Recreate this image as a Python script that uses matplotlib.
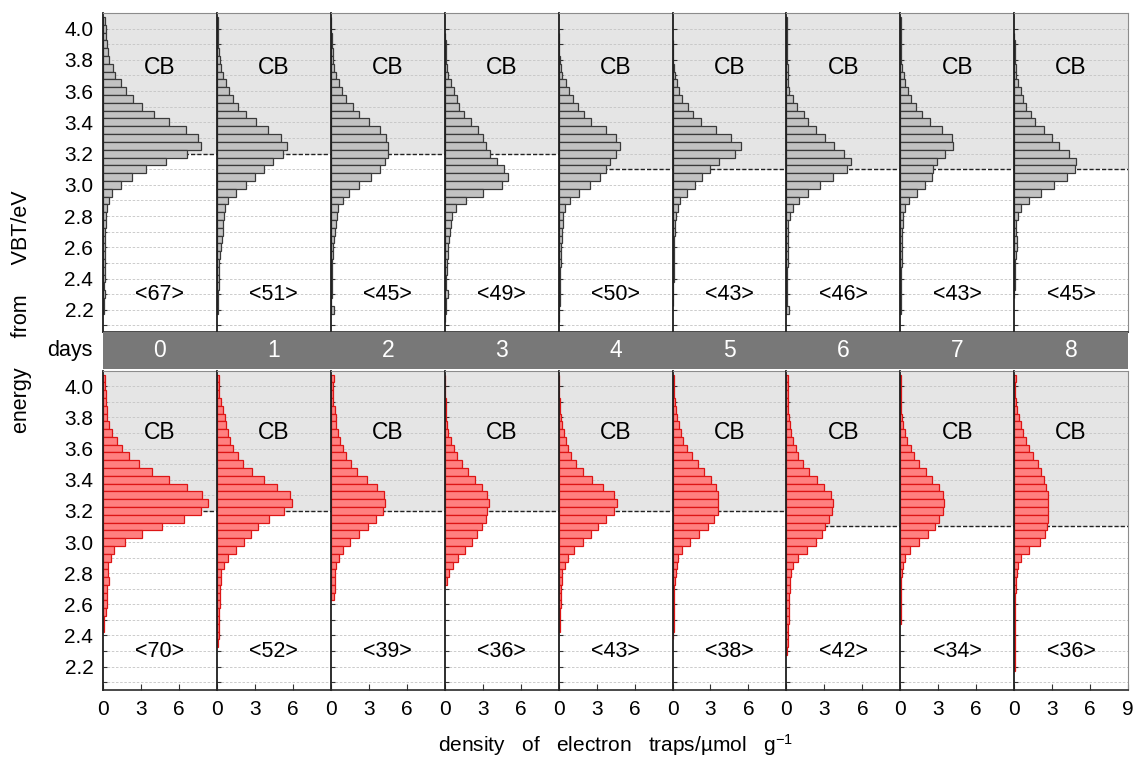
import numpy as np
import matplotlib
matplotlib.use("Agg")
import matplotlib.pyplot as plt
from matplotlib.patches import Rectangle

plt.rcParams["font.family"] = ["Liberation Sans", "DejaVu Sans"]
plt.rcParams["mathtext.fontset"] = "custom"
plt.rcParams["mathtext.rm"] = "Liberation Sans"
plt.rcParams["mathtext.it"] = "Liberation Sans:italic"

# energy bin centres (eV from VBT), 0.05 eV wide, top to bottom
energy = [4.05, 4.00, 3.95, 3.90, 3.85, 3.80, 3.75, 3.70, 3.65, 3.60,
          3.55, 3.50, 3.45, 3.40, 3.35, 3.30, 3.25, 3.20, 3.15, 3.10,
          3.05, 3.00, 2.95, 2.90, 2.85, 2.80, 2.75, 2.70, 2.65, 2.60,
          2.55, 2.50, 2.45, 2.40, 2.35, 2.30, 2.25, 2.20, 2.15, 2.10]

days = ["0", "1", "2", "3", "4", "5", "6", "7", "8"]

# conduction-band edge per day
cb_top = [3.2, 3.2, 3.2, 3.2, 3.1, 3.1, 3.1, 3.1, 3.1]
cb_bottom = [3.2, 3.2, 3.2, 3.2, 3.2, 3.2, 3.1, 3.1, 3.1]

# total electron-trap density per day
total_top = [67, 51, 45, 49, 50, 43, 46, 43, 45]
total_bottom = [70, 52, 39, 36, 43, 38, 42, 34, 36]

# energy-resolved trap density (µmol g-1), upper row
top_d0 = [0.16, 0.20, 0.24, 0.30, 0.40, 0.50, 0.76, 0.95, 1.40, 1.85,
          2.40, 3.10, 4.05, 5.20, 6.56, 7.53, 7.74, 6.66, 4.98, 3.37,
          2.29, 1.42, 0.74, 0.45, 0.30, 0.20, 0.20, 0.16, 0.18, 0.16,
          0.12, 0.18, 0.14, 0.12, 0.10, 0.12, 0.08, 0.05, 0.00, 0.00]
top_d1 = [0.05, 0.05, 0.05, 0.08, 0.13, 0.24, 0.32, 0.50, 0.68, 0.92,
          1.29, 1.66, 2.26, 3.10, 4.05, 5.10, 5.55, 5.24, 4.45, 3.70,
          3.03, 2.26, 1.50, 0.90, 0.63, 0.55, 0.50, 0.45, 0.37, 0.30,
          0.24, 0.20, 0.18, 0.16, 0.13, 0.10, 0.08, 0.06, 0.00, 0.00]
top_d2 = [0.05, 0.05, 0.08, 0.10, 0.14, 0.18, 0.26, 0.40, 0.63, 0.92,
          1.24, 1.75, 2.25, 3.00, 3.85, 4.40, 4.55, 4.55, 4.30, 3.85,
          3.15, 2.25, 1.40, 0.95, 0.60, 0.48, 0.38, 0.30, 0.24, 0.18,
          0.14, 0.10, 0.10, 0.08, 0.06, 0.06, 0.05, 0.25, 0.00, 0.00]
top_d3 = [0.00, 0.00, 0.05, 0.08, 0.10, 0.13, 0.20, 0.30, 0.50, 0.74,
          0.95, 1.13, 1.55, 2.08, 2.60, 3.05, 3.29, 3.58, 4.13, 4.71,
          5.03, 4.50, 3.05, 1.68, 0.87, 0.60, 0.50, 0.42, 0.34, 0.29,
          0.24, 0.20, 0.18, 0.14, 0.10, 0.24, 0.10, 0.08, 0.05, 0.00]
top_d4 = [0.00, 0.00, 0.02, 0.04, 0.05, 0.10, 0.16, 0.29, 0.55, 0.82,
          1.10, 1.50, 2.03, 2.55, 3.71, 4.50, 4.84, 4.50, 4.10, 3.71,
          3.29, 2.50, 1.60, 0.90, 0.50, 0.37, 0.32, 0.26, 0.24, 0.21,
          0.18, 0.16, 0.13, 0.10, 0.10, 0.12, 0.08, 0.06, 0.05, 0.00]
top_d5 = [0.00, 0.00, 0.00, 0.02, 0.03, 0.05, 0.10, 0.18, 0.34, 0.53,
          0.76, 1.24, 1.63, 2.29, 3.40, 4.66, 5.45, 4.92, 3.66, 2.95,
          2.35, 1.76, 1.16, 0.63, 0.40, 0.26, 0.20, 0.16, 0.12, 0.10,
          0.10, 0.10, 0.08, 0.08, 0.06, 0.06, 0.05, 0.00, 0.00, 0.00]
top_d6 = [0.03, 0.03, 0.04, 0.05, 0.06, 0.08, 0.10, 0.12, 0.16, 0.24,
          0.50, 0.87, 1.39, 1.74, 2.34, 3.05, 3.76, 4.55, 5.10, 4.76,
          3.71, 2.66, 1.74, 1.03, 0.50, 0.29, 0.16, 0.13, 0.12, 0.10,
          0.10, 0.10, 0.08, 0.08, 0.08, 0.08, 0.08, 0.20, 0.00, 0.00]
top_d7 = [0.02, 0.02, 0.03, 0.04, 0.05, 0.06, 0.10, 0.29, 0.37, 0.58,
          0.82, 1.21, 1.68, 2.34, 3.26, 4.05, 4.13, 3.53, 2.92, 2.60,
          2.50, 1.95, 1.29, 0.71, 0.40, 0.24, 0.18, 0.16, 0.14, 0.12,
          0.10, 0.10, 0.08, 0.08, 0.06, 0.06, 0.05, 0.04, 0.00, 0.00]
top_d8 = [0.00, 0.00, 0.02, 0.03, 0.05, 0.08, 0.12, 0.18, 0.32, 0.50,
          0.66, 0.92, 1.29, 1.63, 2.34, 2.97, 3.55, 4.32, 4.92, 4.84,
          4.16, 3.13, 2.08, 1.18, 0.50, 0.32, 0.18, 0.18, 0.24, 0.24,
          0.18, 0.08, 0.06, 0.05, 0.03, 0.02, 0.00, 0.00, 0.00, 0.00]

# energy-resolved trap density (µmol g-1), lower row
bot_d0 = [0.13, 0.16, 0.21, 0.24, 0.29, 0.34, 0.50, 0.74, 1.13, 1.50,
          2.08, 2.87, 3.84, 5.18, 6.66, 7.84, 8.32, 7.71, 6.37, 4.68,
          3.10, 1.74, 0.89, 0.60, 0.39, 0.39, 0.45, 0.34, 0.34, 0.29,
          0.24, 0.10, 0.08, 0.00, 0.00, 0.00, 0.00, 0.00, 0.00, 0.00]
bot_d1 = [0.13, 0.15, 0.18, 0.29, 0.50, 0.63, 0.71, 0.90, 1.03, 1.29,
          1.68, 2.10, 2.79, 3.74, 4.76, 5.74, 5.97, 5.29, 4.13, 3.21,
          2.66, 2.13, 1.47, 0.89, 0.53, 0.34, 0.29, 0.24, 0.21, 0.21,
          0.18, 0.16, 0.16, 0.13, 0.10, 0.00, 0.00, 0.00, 0.00, 0.00]
bot_d2 = [0.26, 0.21, 0.18, 0.18, 0.34, 0.39, 0.45, 0.53, 0.71, 0.97,
          1.20, 1.60, 2.10, 2.85, 3.65, 4.20, 4.32, 4.13, 3.60, 2.90,
          2.25, 1.50, 0.95, 0.62, 0.45, 0.34, 0.32, 0.30, 0.24, 0.00,
          0.00, 0.00, 0.00, 0.00, 0.00, 0.00, 0.00, 0.00, 0.00, 0.00]
bot_d3 = [0.03, 0.04, 0.05, 0.08, 0.10, 0.13, 0.21, 0.29, 0.50, 0.71,
          0.95, 1.34, 1.87, 2.39, 2.97, 3.37, 3.47, 3.37, 3.24, 2.95,
          2.58, 2.13, 1.60, 1.08, 0.68, 0.34, 0.16, 0.00, 0.00, 0.00,
          0.00, 0.00, 0.00, 0.00, 0.00, 0.00, 0.00, 0.00, 0.00, 0.00]
bot_d4 = [0.02, 0.03, 0.05, 0.08, 0.10, 0.16, 0.24, 0.39, 0.55, 0.71,
          0.97, 1.37, 1.95, 2.66, 3.53, 4.34, 4.63, 4.34, 3.76, 3.13,
          2.55, 1.92, 1.21, 0.71, 0.50, 0.29, 0.24, 0.18, 0.18, 0.16,
          0.13, 0.10, 0.08, 0.00, 0.00, 0.00, 0.00, 0.00, 0.00, 0.00]
bot_d5 = [0.10, 0.10, 0.12, 0.18, 0.26, 0.34, 0.50, 0.66, 0.84, 1.18,
          1.55, 2.00, 2.50, 3.05, 3.40, 3.58, 3.62, 3.60, 3.30, 2.80,
          2.10, 1.40, 0.75, 0.45, 0.32, 0.24, 0.18, 0.12, 0.10, 0.10,
          0.10, 0.08, 0.08, 0.06, 0.00, 0.00, 0.00, 0.00, 0.00, 0.00]
bot_d6 = [0.10, 0.10, 0.10, 0.10, 0.16, 0.20, 0.29, 0.39, 0.55, 0.76,
          0.95, 1.34, 1.76, 2.39, 3.00, 3.53, 3.66, 3.60, 3.37, 3.05,
          2.79, 2.34, 1.60, 0.95, 0.50, 0.34, 0.29, 0.29, 0.24, 0.21,
          0.21, 0.18, 0.16, 0.13, 0.10, 0.08, 0.00, 0.00, 0.00, 0.00]
bot_d7 = [0.06, 0.06, 0.06, 0.06, 0.06, 0.10, 0.24, 0.37, 0.55, 0.82,
          1.08, 1.50, 2.03, 2.53, 3.05, 3.39, 3.45, 3.34, 3.08, 2.74,
          2.21, 1.50, 0.76, 0.37, 0.18, 0.13, 0.08, 0.08, 0.08, 0.08,
          0.08, 0.08, 0.00, 0.00, 0.00, 0.00, 0.00, 0.00, 0.00, 0.00]
bot_d8 = [0.18, 0.10, 0.10, 0.18, 0.24, 0.34, 0.50, 0.71, 0.95, 1.20,
          1.45, 1.85, 2.15, 2.39, 2.55, 2.66, 2.68, 2.68, 2.66, 2.60,
          2.45, 2.00, 1.20, 0.50, 0.32, 0.24, 0.18, 0.13, 0.10, 0.10,
          0.10, 0.10, 0.10, 0.10, 0.10, 0.10, 0.10, 0.08, 0.00, 0.00]

top_rows = [top_d0, top_d1, top_d2, top_d3, top_d4, top_d5, top_d6, top_d7, top_d8]
bot_rows = [bot_d0, bot_d1, bot_d2, bot_d3, bot_d4, bot_d5, bot_d6, bot_d7, bot_d8]

W, H = 1137, 758
fig = plt.figure(figsize=(W / 100, H / 100), dpi=100)

x0, pw = 103.0, 113.9
rows = [
    dict(top=13.0, bottom=331.7, ylim=(2.06, 4.10), data=top_rows, cb=cb_top,
         totals=total_top, face="#c2c2c2", edge="#3a3a3a", cb_text_y=3.75),
    dict(top=370.7, bottom=690.0, ylim=(2.05, 4.10), data=bot_rows, cb=cb_bottom,
         totals=total_bottom, face="#ff8080", edge="#dd1515", cb_text_y=3.705),
]

major_y = np.round(np.arange(2.2, 4.01, 0.2), 1)
minor_y = np.round(np.arange(2.1, 4.01, 0.1), 1)
e = np.array(energy)

for r, row in enumerate(rows):
    for i in range(9):
        ax = fig.add_axes([(x0 + i * pw) / W, 1 - row["bottom"] / H,
                           pw / W, (row["bottom"] - row["top"]) / H])
        ax.set_xlim(0, 9)
        ax.set_ylim(*row["ylim"])
        cb = row["cb"][i]
        ax.axhspan(cb, 4.2, color="#e5e5e5", zorder=0, lw=0)
        for g in minor_y:
            ax.axhline(g, color="#c4c4c4", lw=0.6, ls=(0, (3, 2)), zorder=1)
        ax.axhline(cb, color="#222222", lw=1.0, ls=(0, (3, 1.5)), zorder=1.5)
        vals = np.array(row["data"][i])
        m = vals > 0
        ax.barh(e[m], vals[m], height=0.05, left=0, color=row["face"],
                edgecolor=row["edge"], lw=0.9, zorder=2)
        ax.text(4.5, row["cb_text_y"], "CB", ha="center", va="center", fontsize=16.5, zorder=3)
        ax.text(4.5, 2.297, "<%d>" % row["totals"][i], ha="center", va="center",
                fontsize=15.5, zorder=3)

        for side in ("top", "right"):
            ax.spines[side].set_color("#8c8c8c")
            ax.spines[side].set_linewidth(0.8)
        ax.spines["left"].set_color("#1e1e1e")
        ax.spines["left"].set_linewidth(1.3)
        ax.spines["bottom"].set_color("#2a2a2a")
        ax.spines["bottom"].set_linewidth(1.2)
        for s in ax.spines.values():
            s.set_zorder(4)

        ax.set_yticks(major_y)
        ax.set_yticks(minor_y, minor=True)
        ax.tick_params(axis="y", which="both", direction="in", length=3,
                       width=0.8, color="#333333", labelsize=15, pad=7)
        if i == 0:
            ax.set_yticklabels(["%.1f" % v for v in major_y])
        else:
            ax.set_yticklabels([])

        if r == 1:
            ticks = [0, 3, 6, 9] if i == 8 else [0, 3, 6]
            ax.set_xticks(ticks)
            ax.set_xticklabels([str(t) for t in ticks])
            ax.tick_params(axis="x", direction="in", length=4, width=0.8,
                           color="#333333", labelsize=15, pad=7)
        else:
            ax.set_xticks([])

# strip of day numbers between the two rows
fig.add_artist(Rectangle((x0 / W, 1 - 369.0 / H), 9 * pw / W, 37.0 / H,
                         transform=fig.transFigure, facecolor="#787878",
                         edgecolor="none", zorder=5))
for i, d in enumerate(days):
    fig.text((x0 + (i + 0.5) * pw) / W, 1 - 350.5 / H, d, color="white",
             ha="center", va="center", fontsize=16.5, zorder=6)
fig.text(92 / W, 1 - 350.5 / H, "days", ha="right", va="center", fontsize=15.5)

fig.text((x0 + 4.5 * pw) / W, 1 - 745 / H,
         "density   of   electron   traps/µmol   g$^{-1}$", ha="center", va="center",
         fontsize=15)
fig.text(22 / W, 1 - 312 / H, "energy     from     VBT/eV", rotation=90,
         ha="center", va="center", fontsize=15.5)

fig.savefig("out.png", dpi=100)
